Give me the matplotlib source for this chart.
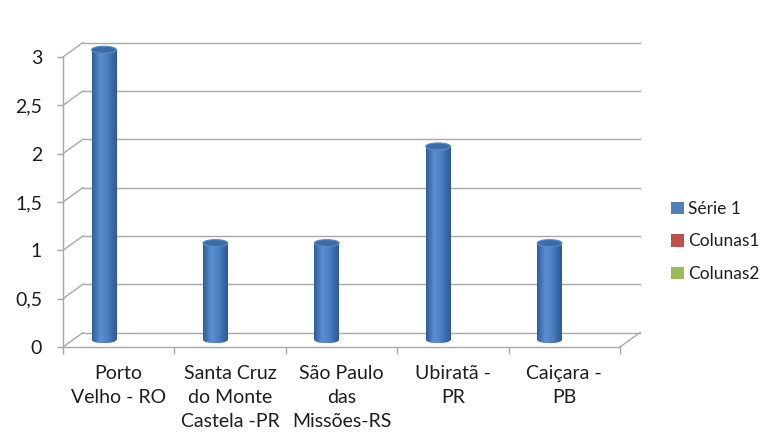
import numpy as np
import matplotlib
matplotlib.use("Agg")
import matplotlib.pyplot as plt
from matplotlib.patches import Ellipse, Patch
from matplotlib.colors import LinearSegmentedColormap

# ---- data ----
categories = ["Porto\nVelho - RO", "Santa Cruz\ndo Monte\nCastela -PR",
              "São Paulo\ndas\nMissões-RS", "Ubiratã -\nPR", "Caiçara -\nPB"]
serie1 = [3, 1, 1, 2, 1]
colunas1 = [None, None, None, None, None]
colunas2 = [None, None, None, None, None]
series_names = ["Série 1", "Colunas1", "Colunas2"]
series_colors = ["#4F81BD", "#C0504D", "#9BBB59"]
yticks = [0, 0.5, 1, 1.5, 2, 2.5, 3]

plt.rcParams["font.family"] = ["Lato", "DejaVu Sans"]
TXT = "#1e1e1e"
GRID = "#a8a8a8"

fig = plt.figure(figsize=(7.73, 4.36), dpi=100)
ax = fig.add_axes([63 / 773, 1 - 347 / 436, 557 / 773, 290 / 436])
ax.set_xlim(0, 5)
ax.set_ylim(0, 3)

# depth of the 3-D box, in data units
dx, dy = 0.18, 0.15

# back wall gridlines and side wall diagonals
for v in yticks:
    ax.plot([dx, 5 + dx], [v + dy, v + dy], color=GRID, lw=1.0, clip_on=False, zorder=1)
    ax.plot([0, dx], [v, v + dy], color=GRID, lw=1.0, clip_on=False, zorder=1)
# right edge of the floor
ax.plot([5, 5 + dx], [0, dy], color=GRID, lw=1.0, clip_on=False, zorder=1)

# axes lines and ticks
for s in ["top", "right"]:
    ax.spines[s].set_visible(False)
for s in ["left", "bottom"]:
    ax.spines[s].set_color(GRID)
    ax.spines[s].set_linewidth(1.0)
ax.set_yticks(yticks)
ax.set_yticklabels([("%g" % v).replace(".", ",") for v in yticks],
                   fontsize=14, color=TXT)
ax.tick_params(axis="y", direction="out", length=4.5, width=1, color=GRID, pad=10.5)
ax.set_xticks(np.arange(6))
ax.set_xticklabels([""] * 6)
ax.tick_params(axis="x", which="major", direction="out", length=5, width=1, color=GRID)
ax.set_xticks(np.arange(5) + 0.5, minor=True)
ax.set_xticklabels(categories, minor=True, fontsize=14, color=TXT, linespacing=1.5)
ax.tick_params(axis="x", which="minor", length=0, pad=13)
ax.patch.set_visible(False)

# cylinder shading across each column
cyl = LinearSegmentedColormap.from_list(
    "cyl", ["#2f5e9a", "#4377b8", "#5a8fd0", "#5386c8", "#477cbd", "#3868a6", "#2d5a93"])
grad = np.linspace(0, 1, 64).reshape(1, -1)

nser = 3
w = 1 / 4.5
offs = [(i - (nser - 1) / 2) * w for i in range(nser)]
eh = 0.072  # ellipse height in data units

for si, vals in enumerate([serie1, colunas1, colunas2]):
    xs = np.arange(len(categories)) + 0.5 + offs[si] + dx / 2
    heights = [np.nan if v is None else v for v in vals]
    bars = ax.bar(xs, heights, width=w, bottom=dy / 2, color="none",
                  edgecolor="none", zorder=3, clip_on=False)
    for x, v, b in zip(xs, heights, bars):
        if np.isnan(v):
            continue
        y0 = dy / 2
        im = ax.imshow(grad, cmap=cyl, extent=[x - w / 2, x + w / 2, y0, y0 + v],
                       aspect="auto", zorder=3, interpolation="bilinear")
        im.set_clip_path(b)
        eb = Ellipse((x, y0), w, eh, facecolor="none", edgecolor="none",
                     transform=ax.transData)
        ax.add_patch(eb)
        im2 = ax.imshow(grad, cmap=cyl, extent=[x - w / 2, x + w / 2, y0 - eh / 2, y0],
                        aspect="auto", zorder=3, interpolation="bilinear")
        im2.set_clip_path(eb)
        top = Ellipse((x, y0 + v), w, eh, facecolor="#3a6bab",
                      edgecolor="#5a8bc8", lw=0.8, zorder=4, clip_on=False)
        ax.add_patch(top)

ax.set_xlim(0, 5)
ax.set_ylim(0, 3)

handles = [Patch(facecolor=c, edgecolor="none") for c in series_colors]
fig.legend(handles, series_names, loc="upper left",
           bbox_to_anchor=(664 / 773, 1 - 194 / 436), frameon=False,
           fontsize=12.5, handlelength=0.75, handleheight=0.75,
           handletextpad=0.25, labelspacing=0.95, borderaxespad=0,
           labelcolor=TXT)

fig.savefig("out.png", dpi=100)
